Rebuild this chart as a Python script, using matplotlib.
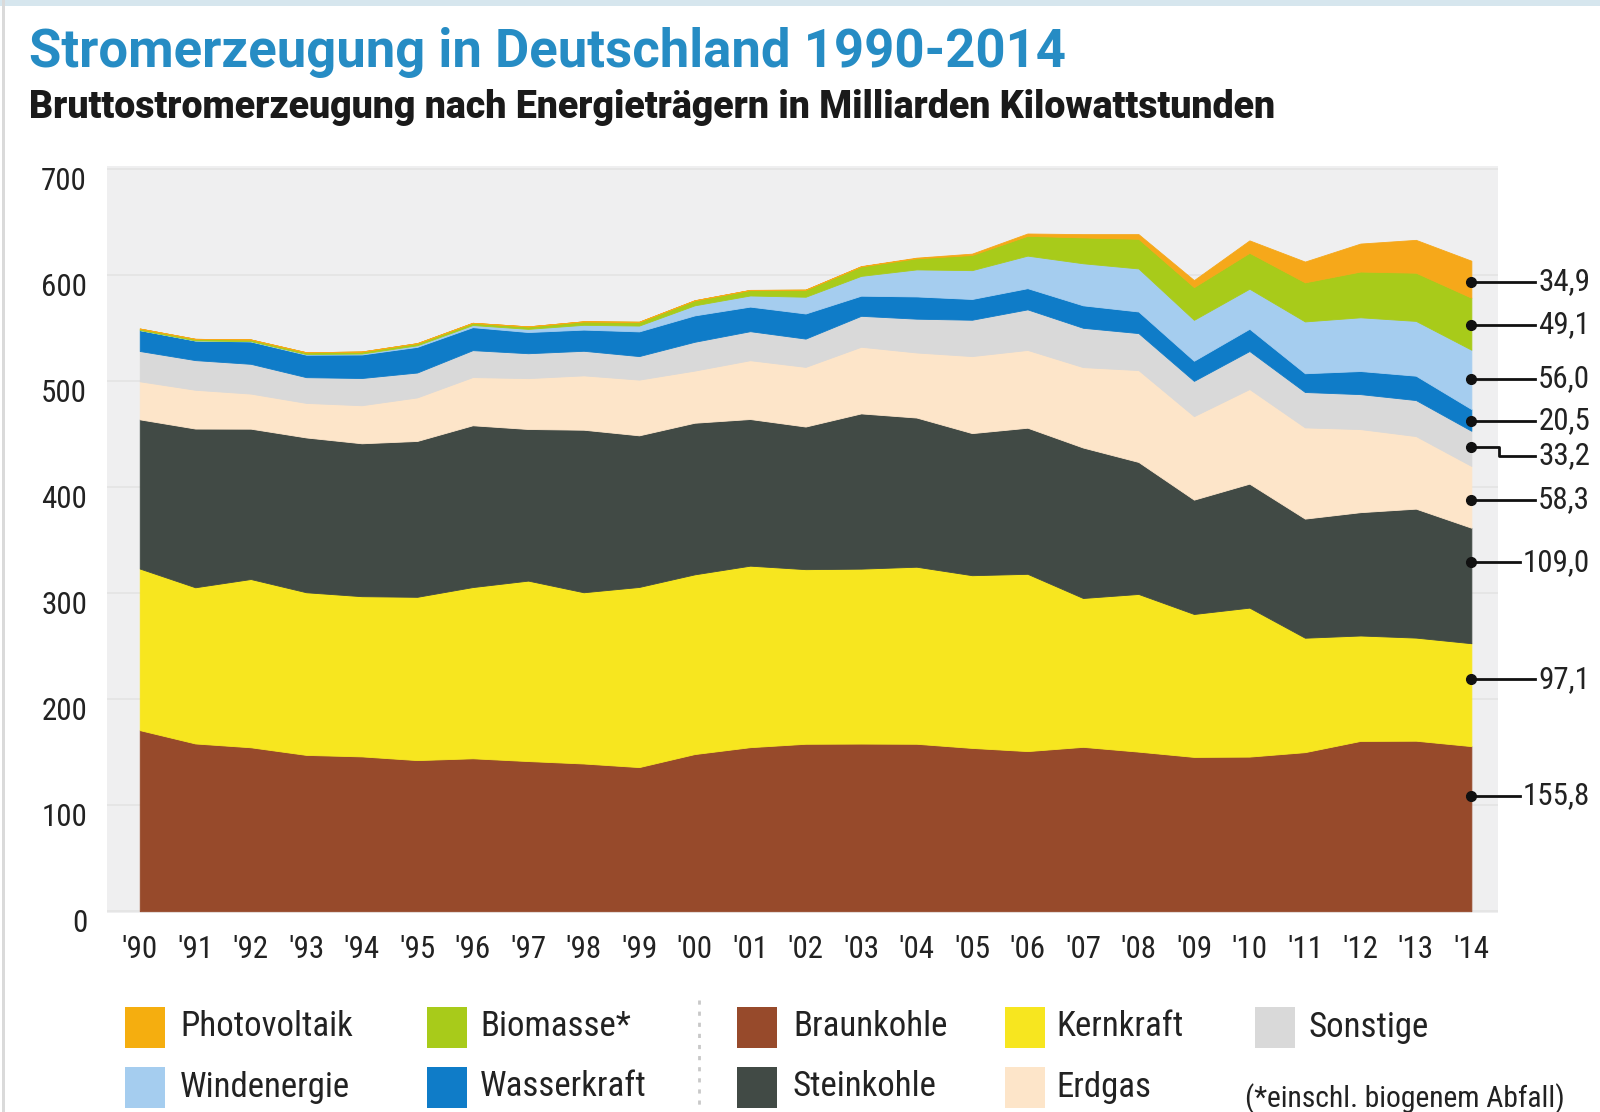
import numpy as np
import matplotlib
matplotlib.use("Agg")
import matplotlib.pyplot as plt
from matplotlib import font_manager as fm
from matplotlib.patches import Rectangle
from matplotlib.lines import Line2D
import matplotlib.transforms as mtransforms

# ---------------- data ----------------
years = list(range(1990, 2015))
x_tick_labels = ["'90", "'91", "'92", "'93", "'94", "'95", "'96", "'97", "'98", "'99",
                 "'00", "'01", "'02", "'03", "'04", "'05", "'06", "'07", "'08", "'09",
                 "'10", "'11", "'12", "'13", "'14"]
y_ticks = [0, 100, 200, 300, 400, 500, 600, 700]
y_tick_labels = ["0", "100", "200", "300", "400", "500", "600", "700"]

braunkohle = [170.9, 158.3, 154.7, 147.5, 146.1, 142.6, 144.3, 141.7, 139.4, 136.0, 148.3, 154.8, 158.0,
              158.2, 158.0, 154.1, 151.1, 155.1, 150.6, 145.6, 145.9, 150.1, 160.7, 160.9, 155.8]
kernkraft = [152.5, 147.4, 158.8, 153.5, 151.2, 154.1, 161.6, 170.3, 161.6, 170.0, 169.6, 171.3, 164.8,
             165.1, 167.1, 163.0, 167.3, 140.5, 148.8, 134.9, 140.6, 108.0, 99.5, 97.3, 97.1]
steinkohle = [140.8, 149.8, 141.9, 146.1, 144.3, 147.1, 152.7, 143.1, 153.4, 143.1, 143.1, 138.4, 134.6,
              146.5, 140.8, 134.1, 137.9, 142.0, 124.6, 107.9, 117.0, 112.4, 116.4, 121.7, 109.0]
erdgas = [35.9, 36.6, 33.1, 32.6, 35.9, 41.1, 45.5, 48.0, 51.3, 52.6, 49.2, 55.5, 56.3,
          62.9, 61.4, 72.7, 73.4, 75.9, 86.7, 78.8, 89.3, 86.1, 78.4, 68.5, 58.3]
sonstige = [28.6, 28.0, 28.1, 24.3, 25.7, 23.5, 25.4, 23.5, 23.2, 22.2, 27.2, 27.4, 26.7,
            29.2, 31.9, 34.3, 38.3, 37.1, 34.9, 33.3, 35.9, 33.4, 33.0, 34.0, 33.2]
wasserkraft = [19.7, 18.5, 21.1, 21.2, 22.2, 24.2, 21.7, 20.0, 20.0, 23.3, 24.9, 23.2, 23.7,
               19.0, 21.0, 19.6, 20.0, 21.2, 20.4, 19.0, 21.0, 17.7, 21.8, 23.0, 20.5]
windenergie = [0.1, 0.1, 0.3, 0.6, 0.9, 1.5, 2.0, 3.0, 4.5, 5.5, 9.5, 10.5, 15.8,
               18.7, 25.5, 27.2, 30.7, 39.7, 40.6, 38.6, 37.8, 48.9, 50.7, 51.7, 56.0]
biomasse = [1.4, 1.5, 1.6, 1.7, 1.9, 2.0, 2.1, 2.3, 3.3, 3.6, 4.7, 5.2, 6.6,
            8.9, 10.5, 14.3, 18.7, 24.4, 28.0, 30.9, 33.9, 36.9, 43.2, 45.5, 49.1]
photovoltaik = [0.0, 0.0, 0.0, 0.0, 0.0, 0.0, 0.0, 0.0, 0.0, 0.0, 0.1, 0.1, 0.2,
                0.3, 0.6, 1.3, 2.2, 3.1, 4.4, 6.6, 11.7, 19.6, 26.4, 31.0, 34.9]

series_names = ["Braunkohle", "Kernkraft", "Steinkohle", "Erdgas", "Sonstige",
                "Wasserkraft", "Windenergie", "Biomasse*", "Photovoltaik"]
series_values = [braunkohle, kernkraft, steinkohle, erdgas, sonstige,
                 wasserkraft, windenergie, biomasse, photovoltaik]

title = "Stromerzeugung in Deutschland 1990-2014"
subtitle = "Bruttostromerzeugung nach Energieträgern in Milliarden Kilowattstunden"
footnote = "(*einschl. biogenem Abfall)"

# ---------------- style ----------------
colors = {
    "Braunkohle": "#974a2b",
    "Kernkraft": "#f7e61f",
    "Steinkohle": "#414a45",
    "Erdgas": "#fde5c9",
    "Sonstige": "#d9d9d9",
    "Wasserkraft": "#0f7cc8",
    "Windenergie": "#a5cdef",
    "Biomasse*": "#a8cb1a",
    "Photovoltaik": "#f6a81a",
}
legend_colors = dict(colors)
legend_colors["Photovoltaik"] = "#f5ae0f"
legend_rows = [["Photovoltaik", "Biomasse*", "Braunkohle", "Kernkraft", "Sonstige"],
               ["Windenergie", "Wasserkraft", "Steinkohle", "Erdgas"]]
legend_patch_x = [125, 427, 737, 1005, 1255]
legend_text_x = [180, 480, 793, 1056, 1309]
legend_row_y = [1027, 1087]
label_frac = [0.70, 0.65, 0.70, 0.45, 0.55, 0.47, 0.51, 0.48, 0.43]

W, H = 1600, 1112


def pick_family(cands):
    for fam in cands:
        try:
            fm.findfont(fm.FontProperties(family=fam), fallback_to_default=False)
            return fam
        except Exception:
            continue
    return "DejaVu Sans"


FONT = pick_family(["Roboto Condensed", "Liberation Sans Narrow", "Open Sans Condensed",
                    "Roboto", "Liberation Sans"])
FAM = [FONT, "DejaVu Sans"]
TFONT = pick_family(["Roboto", "Open Sans", "Lato", "DejaVu Sans"])
TFAM = [TFONT, "DejaVu Sans"]
plt.rcParams["font.family"] = FAM


def fx(x):
    return x / W


def fy(y):
    return 1 - y / H


fig = plt.figure(figsize=(16, 11.12), dpi=100)
fig.patch.set_facecolor("white")
fig.canvas.draw()
renderer = fig.canvas.get_renderer()


def size_for(text, target_w, weight="normal", family=None):
    t = fig.text(0, 0, text, fontsize=20, weight=weight, family=family or FAM)
    w = t.get_window_extent(renderer).width
    t.remove()
    return 20 * target_w / w


# page decorations
fig.add_artist(Rectangle((0, fy(6)), 1, 6 / H, transform=fig.transFigure,
                         color="#d6e6ee", lw=0))
fig.add_artist(Rectangle((fx(2), 0), 3 / W, 1, transform=fig.transFigure,
                         color="#dadada", lw=0))

# ---------------- axes ----------------
ax = fig.add_axes([fx(107), fy(913), (1498 - 107) / W, (913 - 166) / H])
ax.set_facecolor("#efeff0")
for s in ax.spines.values():
    s.set_visible(False)
ax.set_xlim(1989.41, 2014.48)
ax.set_ylim(-1.7, 703.3)
ax.set_yticks(y_ticks)
ax.set_xticks(years)
ax.tick_params(length=0, labelleft=False, labelbottom=False)
ax.yaxis.grid(True, color="#e3e3e3", lw=1.2)
ax.set_axisbelow(True)

x = np.array(years, dtype=float)
base = np.zeros(len(years))
bottoms, tops = [], []
for name, vals in zip(series_names, series_values):
    v = np.array(vals, dtype=float)
    top = base + v
    ax.fill_between(x, base, top, facecolor=colors[name], edgecolor=colors[name],
                    lw=0.6, zorder=2)
    bottoms.append(base.copy())
    tops.append(top.copy())
    base = top

# tick labels
tick_fs = size_for("700", 46)
ytrans = mtransforms.blended_transform_factory(ax.transAxes, ax.transData) + \
    mtransforms.ScaledTranslation(-20 / 100, -12.5 / 100, fig.dpi_scale_trans)
for v, lab in zip(y_ticks, y_tick_labels):
    ax.text(0, v, lab, transform=ytrans, ha="right", va="center",
            fontsize=tick_fs, color="#222222", clip_on=False)
xtrans = mtransforms.blended_transform_factory(ax.transData, ax.transAxes) + \
    mtransforms.ScaledTranslation(0, -37 / 100, fig.dpi_scale_trans)
for v, lab in zip(years, x_tick_labels):
    ax.text(v, 0, lab, transform=xtrans, ha="center", va="center",
            fontsize=tick_fs, color="#222222", clip_on=False)

# title / subtitle
t_fs = size_for(title, 1034, "bold", TFAM)
fig.text(fx(29), fy(67), title, fontsize=t_fs, weight="bold", color="#268cc4",
         ha="left", va="baseline", family=TFAM)
s_fs = size_for(subtitle, 1250, "heavy", TFAM)
fig.text(fx(29), fy(118), subtitle, fontsize=s_fs, weight="heavy", color="#1a1a1a",
         ha="left", va="baseline", family=TFAM)

# right-hand value labels
fig.canvas.draw()
last = len(years) - 1
for i, name in enumerate(series_names):
    val = series_values[i][last]
    ym = bottoms[i][last] + label_frac[i] * series_values[i][last]
    px, py = ax.transData.transform((years[last], ym))
    ty = py - (9 if name == "Sonstige" else 0)
    txt = fig.text(1590, ty, f"{val:.1f}".replace(".", ","), transform=None,
                   ha="right", va="center", fontsize=tick_fs, color="#222222")
    bb = txt.get_window_extent(renderer)
    x_end = bb.x0 - 3
    if name == "Sonstige":
        xs = [px, px + 28, px + 28, x_end]
        ys = [py, py, ty, ty]
    else:
        xs = [px, x_end]
        ys = [py, py]
    fig.add_artist(Line2D(xs, ys, transform=None, color="#111111", lw=2))
    fig.add_artist(Line2D([px], [py], transform=None, marker="o", markersize=7,
                          color="#111111", lw=0))

# legend
leg_fs = size_for("Photovoltaik", 172)
for r, row in enumerate(legend_rows):
    yc = legend_row_y[r]
    for c, name in enumerate(row):
        fig.add_artist(Rectangle((fx(legend_patch_x[c]), fy(yc + 20.5)), 40 / W, 41 / H,
                                 transform=fig.transFigure, color=legend_colors[name], lw=0))
        fig.text(fx(legend_text_x[c]), fy(yc), name, fontsize=leg_fs, color="#222222",
                 ha="left", va="center")
fig.add_artist(Line2D([fx(699), fx(699)], [fy(1000), fy(1110)], transform=fig.transFigure,
                      color="#c8c8c8", lw=2, ls=(0, (1.5, 2.5))))
f_fs = size_for(footnote, 320)
fig.text(fx(1245), fy(1099), footnote, fontsize=f_fs, color="#222222", ha="left", va="center")

fig.savefig("out.png", dpi=100, facecolor="white")
